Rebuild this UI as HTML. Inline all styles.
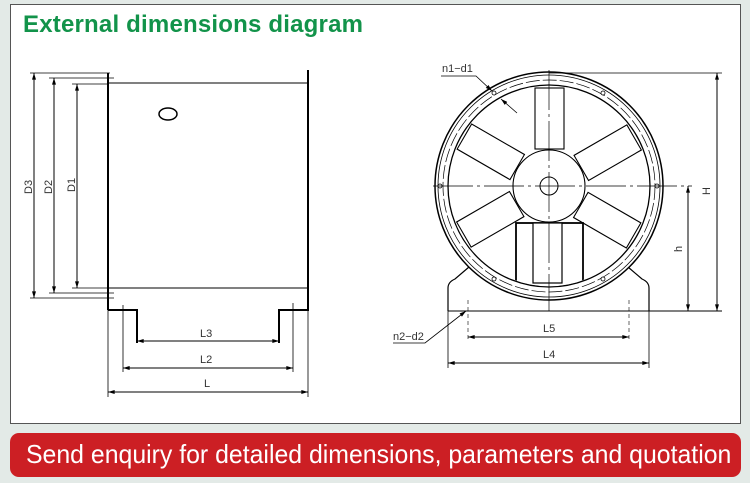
<!DOCTYPE html>
<html><head><meta charset="utf-8"><style>
body{margin:0;width:750px;height:483px;background:#e3eae7;overflow:hidden;position:relative;font-family:"Liberation Sans",sans-serif}
.panel{position:absolute;left:10px;top:4px;width:731px;height:420px;background:#fff;border:1px solid #555;box-sizing:border-box}
.title{position:absolute;left:23px;top:11px;color:#12934a;font-weight:bold;font-size:24px;letter-spacing:0.2px}
.banner{position:absolute;left:10px;top:433px;width:731px;height:44px;background:#cc1f24;border-radius:9px}
.banner span{position:absolute;left:16px;top:6px;color:#fff;font-size:26px;white-space:nowrap;transform:scaleX(0.955);transform-origin:left top}
svg{position:absolute;left:0;top:0}
</style></head><body>
<div class="panel"></div>
<div class="title">External dimensions diagram</div>
<svg width="750" height="483" viewBox="0 0 750 483">
<defs>
<marker id="a" viewBox="0 0 10 6" refX="10" refY="3" markerWidth="10" markerHeight="4" markerUnits="userSpaceOnUse" orient="auto-start-reverse"><path d="M0,0L10,3L0,6z" fill="#000"/></marker>
<clipPath id="ic"><circle cx="549" cy="186" r="100"/></clipPath>
</defs>
<g stroke="#000" fill="none" stroke-width="1">
<line x1="108" y1="73" x2="108" y2="310" stroke-width="2"/>
<line x1="308" y1="70" x2="308" y2="300" stroke-width="2"/>
<line x1="108" y1="83" x2="308" y2="83"/>
<line x1="108" y1="288" x2="308" y2="288"/>
<polyline points="108,310 137,310 137,343" stroke-width="2"/>
<polyline points="308,300 308,310 279,310 279,343" stroke-width="2"/>
<line x1="123" y1="305" x2="123" y2="372" stroke-width="0.8"/>
<line x1="293" y1="303" x2="293" y2="372" stroke-width="0.8"/>
<line x1="108" y1="310" x2="108" y2="397" stroke-width="0.8"/>
<line x1="308" y1="310" x2="308" y2="397" stroke-width="0.8"/>
<ellipse cx="168" cy="114" rx="9" ry="6" stroke-width="1.5"/>
<line x1="137" y1="341" x2="279" y2="341" marker-start="url(#a)" marker-end="url(#a)"/>
<line x1="123" y1="368" x2="293" y2="368" marker-start="url(#a)" marker-end="url(#a)"/>
<line x1="108" y1="392" x2="308" y2="392" marker-start="url(#a)" marker-end="url(#a)"/>
<line x1="30" y1="73" x2="110" y2="73" stroke-width="0.8"/>
<line x1="49" y1="78" x2="114" y2="78" stroke-width="0.8"/>
<line x1="72" y1="84" x2="108" y2="84" stroke-width="0.8"/>
<line x1="30" y1="298" x2="114" y2="298" stroke-width="0.8"/>
<line x1="49" y1="293" x2="114" y2="293" stroke-width="0.8"/>
<line x1="72" y1="288" x2="108" y2="288" stroke-width="0.8"/>
<line x1="34" y1="73" x2="34" y2="298" marker-start="url(#a)" marker-end="url(#a)"/>
<line x1="54" y1="78" x2="54" y2="293" marker-start="url(#a)" marker-end="url(#a)"/>
<line x1="77" y1="84" x2="77" y2="288" marker-start="url(#a)" marker-end="url(#a)"/>
<path d="M448,311 L448,288 Q448,282 455,279 L469,267 M649,311 L649,288 Q649,282 642,279 L628,267" stroke-width="1.2"/>
<line x1="448" y1="311" x2="722" y2="311"/>
<circle cx="549" cy="186" r="114" fill="#fff" stroke-width="1.5"/>
<circle cx="549" cy="186" r="111" stroke-width="0.8"/>
<circle cx="549" cy="186" r="106" stroke-width="0.7" stroke-dasharray="14 3"/>
<circle cx="549" cy="186" r="101" stroke-width="1.3"/>
<g clip-path="url(#ic)" stroke-width="1.1">
<rect x="535" y="88" width="29" height="61"/>
<rect x="535" y="88" width="29" height="61" transform="rotate(60 549 186)"/>
<rect x="535" y="88" width="29" height="61" transform="rotate(120 549 186)"/>
<rect x="535" y="88" width="29" height="61" transform="rotate(-60 549 186)"/>
<rect x="535" y="88" width="29" height="61" transform="rotate(-120 549 186)"/>
<circle cx="549" cy="186" r="36" fill="#fff"/>
<rect x="516" y="223" width="67" height="70" fill="#fff" stroke-width="1.8"/>
<rect x="533" y="223" width="29" height="60" fill="#fff" stroke-width="1.2"/>
</g>
<circle cx="549" cy="186" r="9"/>
<g fill="#fff" stroke-width="0.8"><circle cx="494" cy="93" r="2"/><circle cx="603" cy="93" r="2"/><circle cx="494" cy="279" r="2"/><circle cx="603" cy="279" r="2"/><circle cx="440" cy="186" r="2"/><circle cx="657" cy="186" r="2"/></g>
<line x1="433" y1="186" x2="692" y2="186" stroke-width="0.7" stroke-dasharray="40 4 3 4"/>
<line x1="549" y1="70" x2="549" y2="311" stroke-width="0.7" stroke-dasharray="40 4 3 4"/>
<line x1="549" y1="73" x2="722" y2="73" stroke-width="0.8"/>
<line x1="717" y1="73" x2="717" y2="311" marker-start="url(#a)" marker-end="url(#a)"/>
<line x1="688" y1="186" x2="688" y2="311" marker-start="url(#a)" marker-end="url(#a)"/>
<line x1="468" y1="300" x2="468" y2="342" stroke-width="0.6" stroke-dasharray="4 3"/>
<line x1="629" y1="300" x2="629" y2="342" stroke-width="0.6" stroke-dasharray="4 3"/>
<line x1="448" y1="311" x2="448" y2="368" stroke-width="0.8"/>
<line x1="649" y1="311" x2="649" y2="368" stroke-width="0.8"/>
<line x1="468" y1="337" x2="629" y2="337" marker-start="url(#a)" marker-end="url(#a)"/>
<line x1="448" y1="363" x2="649" y2="363" marker-start="url(#a)" marker-end="url(#a)"/>
<polyline points="441,76 476,76 492,91" stroke-width="0.8" marker-end="url(#a)"/>
<line x1="517" y1="113" x2="501" y2="99" stroke-width="0.8" marker-end="url(#a)"/>
<polyline points="393,343 425,343 466,311" stroke-width="0.8" marker-end="url(#a)"/>
</g>
<g font-family="Liberation Sans Narrow, Liberation Sans, sans-serif" font-size="11" fill="#333">
<text x="200" y="337">L3</text><text x="200" y="363">L2</text><text x="204" y="387">L</text>
<text x="543" y="332">L5</text><text x="543" y="358">L4</text>
<text x="442" y="72">n1−d1</text><text x="393" y="340">n2−d2</text>
<text transform="translate(32,194) rotate(-90)">D3</text>
<text transform="translate(52,194) rotate(-90)">D2</text>
<text transform="translate(75,192) rotate(-90)">D1</text>
<text transform="translate(710,195) rotate(-90)">H</text>
<text transform="translate(682,252) rotate(-90)">h</text>
</g>
</svg>
<div class="banner"><span>Send enquiry for detailed dimensions, parameters and quotation</span></div>
</body></html>
